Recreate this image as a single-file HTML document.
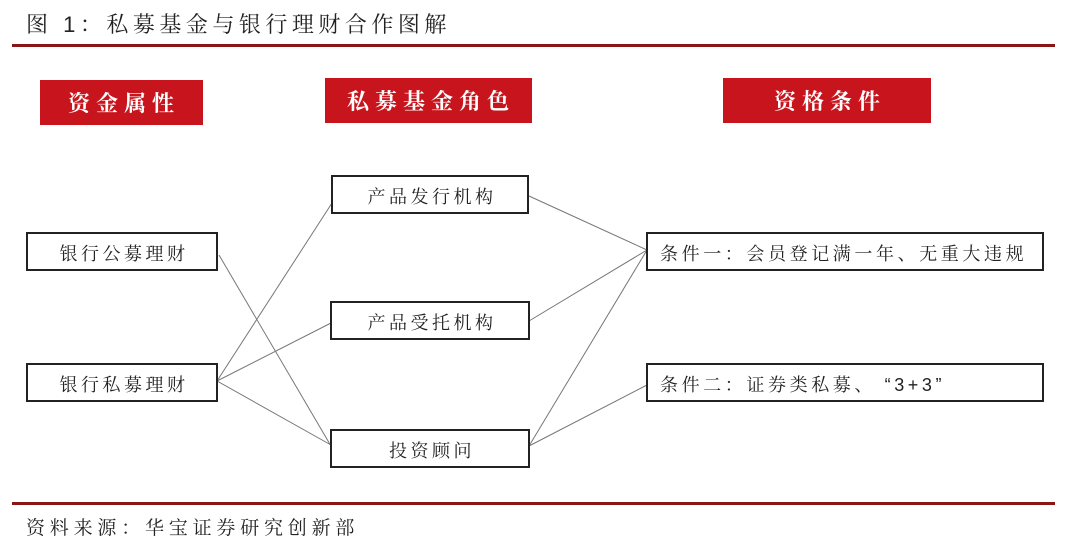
<!DOCTYPE html>
<html><head><meta charset="utf-8"><style>
html,body{margin:0;padding:0;background:#fff;}
svg text{font-family:"Liberation Sans","Noto Serif CJK SC","Noto Sans CJK SC",serif;}
</style></head><body>
<svg width="1074" height="546" xmlns="http://www.w3.org/2000/svg">
<rect width="1074" height="546" fill="#fff"/>
<text x="26" y="32" font-size="22" fill="#222" letter-spacing="4.5">图 1：私募基金与银行理财合作图解</text>
<rect x="12" y="44" width="1043" height="3" fill="#8a1515"/>
<g fill="#c8141c">
<rect x="40" y="80" width="163" height="45"/>
<rect x="325" y="78" width="207" height="45"/>
<rect x="723" y="78" width="208" height="45"/>
</g>
<g fill="#fff" font-size="22" font-weight="bold" text-anchor="middle" letter-spacing="6">
<text x="124" y="111">资金属性</text>
<text x="431" y="109">私募基金角色</text>
<text x="830" y="109">资格条件</text>
</g>
<g stroke="#777" stroke-width="1" fill="none">
<line x1="217" y1="381" x2="332" y2="203"/>
<line x1="217" y1="381" x2="331" y2="323"/>
<line x1="217" y1="381" x2="331" y2="445"/>
<line x1="219" y1="255" x2="331" y2="446"/>
<line x1="529" y1="196" x2="647" y2="250"/>
<line x1="529" y1="321" x2="647" y2="250"/>
<line x1="529" y1="446" x2="647" y2="250"/>
<line x1="529" y1="446" x2="647" y2="385"/>
</g>
<g fill="#fff" stroke="#222" stroke-width="2">
<rect x="332" y="176" width="196" height="37"/>
<rect x="331" y="302" width="198" height="37"/>
<rect x="331" y="430" width="198" height="37"/>
<rect x="27" y="233" width="190" height="37"/>
<rect x="27" y="364" width="190" height="37"/>
<rect x="647" y="233" width="396" height="37"/>
<rect x="647" y="364" width="396" height="37"/>
</g>
<g fill="#222" font-size="18" text-anchor="middle" letter-spacing="3.5">
<text x="432" y="203">产品发行机构</text>
<text x="432" y="329">产品受托机构</text>
<text x="432" y="457">投资顾问</text>
<text x="124" y="260">银行公募理财</text>
<text x="124" y="391">银行私募理财</text>
</g>
<g fill="#222" font-size="18" letter-spacing="3.6">
<text x="660" y="260">条件一：会员登记满一年、无重大违规</text>
<text x="660" y="391">条件二：证券类私募、 “3+3”</text>
</g>
<rect x="12" y="502" width="1043" height="3" fill="#8a1515"/>
<text x="26" y="534" font-size="19" fill="#222" letter-spacing="4.8">资料来源：华宝证券研究创新部</text>
</svg>
</body></html>
